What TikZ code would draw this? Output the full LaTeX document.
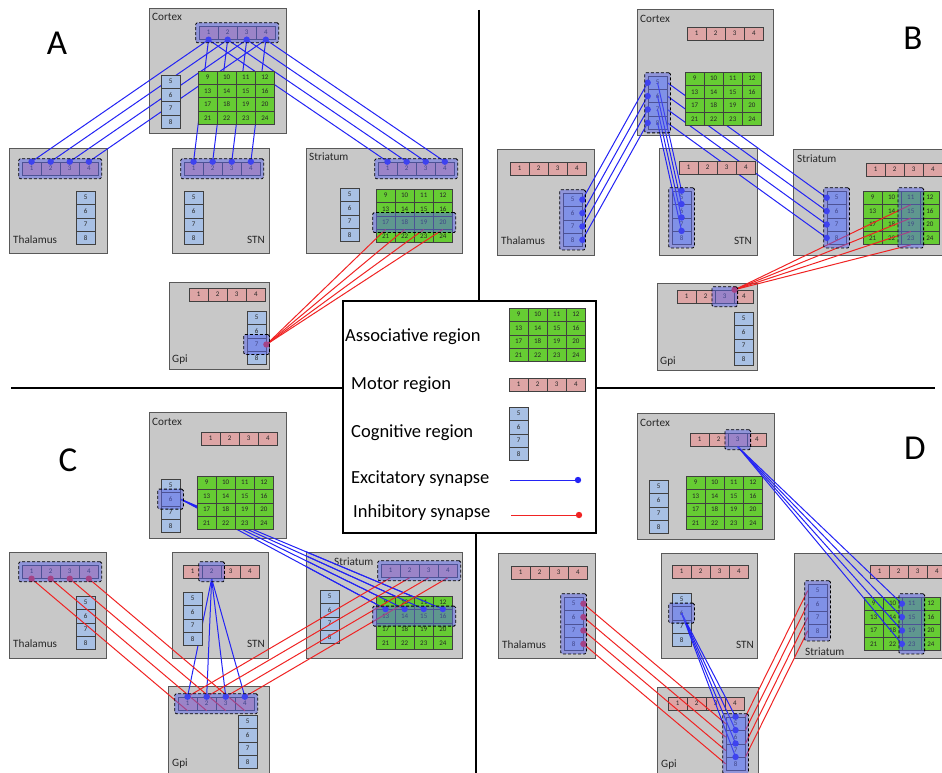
\documentclass[tikz,border=0pt]{standalone}
\usepackage{fontspec}
\setmainfont{Carlito}
\usetikzlibrary{fit,calc}
\pgfdeclarelayer{bg}
\pgfdeclarelayer{under}
\pgfdeclarelayer{over}
\pgfdeclarelayer{dots}
\pgfdeclarelayer{top}
\pgfsetlayers{bg,under,main,over,dots,top}
\definecolor{boxgray}{RGB}{200,200,200}
\definecolor{motorpink}{RGB}{221,165,165}
\definecolor{cogblue}{RGB}{168,192,228}
\definecolor{assocgreen}{RGB}{102,204,51}
\definecolor{exblue}{RGB}{35,35,245}
\definecolor{inred}{RGB}{240,35,35}
\definecolor{hlfill}{RGB}{90,100,235}
\def\cellw{19.1}
\def\cellh{13.4}
\tikzset{
  cellbase/.style={draw=black!75, line width=0.6pt, minimum width=19.1pt, minimum height=13.4pt,
    inner sep=0pt, font=\fontsize{7}{7}\selectfont, text=black!85},
  mcell/.style={cellbase, fill=motorpink},
  ccell/.style={cellbase, fill=cogblue},
  acell/.style={cellbase, fill=assocgreen},
  regbox/.style={draw=black!65, line width=0.8pt, fill=boxgray, inner sep=0pt},
  lab/.style={inner sep=0pt, font=\fontsize{11.2}{12}\selectfont, text=black!85},
  hl/.style={draw=black, dash pattern=on 3pt off 2pt, line width=0.8pt, fill=hlfill, fill opacity=0.5,
    draw opacity=1, inner sep=3pt, rounded corners=1.5pt},
  exl/.style={draw=exblue, line width=1pt},
  inl/.style={draw=inred, line width=1pt},
  exc/.style={fill=exblue},
  inc/.style={fill=inred},
  divider/.style={draw=black, line width=1.8pt},
  leglab/.style={inner sep=0pt, font=\fontsize{18.5}{20}\selectfont, anchor=west},
  panellab/.style={inner sep=0pt, font=\fontsize{35}{35}\selectfont},
}
\newcommand\MotorRow[3]{\foreach \i in {1,...,4}{\node[mcell] (#1-\i) at ({#2+\cellw*(\i-0.5)},{#3+\cellh/2}) {\i};}}
\newcommand\CogCol[3]{\foreach \i in {5,...,8}{\node[ccell] (#1-\i) at ({#2+\cellw/2},{#3+\cellh*(\i-4.5)}) {\i};}}
\newcommand\AssocGrid[3]{\foreach \r in {0,...,3}{\foreach \c in {0,...,3}{\pgfmathtruncatemacro\nn{9+4*\r+\c}\node[acell] (#1-\nn) at ({#2+\cellw*(\c+0.5)},{#3+\cellh*(\r+0.5)}) {\nn};}}}
\newcommand\Region[5]{\begin{pgfonlayer}{bg}\node[regbox, fit={(#2,#3)(#4,#5)}] (#1) {};\end{pgfonlayer}}
\newcommand\HL[2]{\begin{pgfonlayer}{top}\node[hl, fit=#2] (#1) {};\end{pgfonlayer}}
\newcommand\Ex[3][under]{\begin{pgfonlayer}{#1}\draw[exl] (#2) -- (#3);\end{pgfonlayer}\begin{pgfonlayer}{dots}\fill[exc] (#3) circle (3.2pt);\end{pgfonlayer}}
\newcommand\ExDot[1]{\begin{pgfonlayer}{dots}\fill[exc] (#1) circle (3.2pt);\end{pgfonlayer}}
\newcommand\In[3][over]{\begin{pgfonlayer}{#1}\draw[inl] (#2) -- (#3);\end{pgfonlayer}\begin{pgfonlayer}{dots}\fill[inc] (#3) circle (3.2pt);\end{pgfonlayer}}
\newcommand\InN[3][over]{\begin{pgfonlayer}{#1}\draw[inl] (#2) -- (#3);\end{pgfonlayer}}

\begin{document}
\begin{tikzpicture}[x=1pt,y=-1pt]
\useasboundingbox (0,0) rectangle (942,773);
\begin{pgfonlayer}{bg}\fill[white] (0,0) rectangle (942,773);\end{pgfonlayer}

% ---------------- dividers and legend
\coordinate (d1a) at (11,388); \coordinate (d1b) at (343,388);
\coordinate (d2a) at (596,388); \coordinate (d2b) at (935,388);
\coordinate (d3a) at (479,10); \coordinate (d3b) at (479,301);
\coordinate (d4a) at (476,533); \coordinate (d4b) at (476,773);
\draw[divider] (d1a) -- (d1b);
\draw[divider] (d2a) -- (d2b);
\draw[divider] (d3a) -- (d3b);
\draw[divider] (d4a) -- (d4b);
\node[draw=black, line width=1.6pt, fill=white, inner sep=0pt, fit={(343,301)(596,533)}] (leg) {};
\AssocGrid{L}{509}{308}
\MotorRow{L}{509}{378}
\CogCol{L}{509}{407}
\node[leglab] (legA) at (345,337) {Associative region};
\node[leglab] (legM) at (351,385) {Motor region};
\node[leglab] (legC) at (351,433) {Cognitive region};
\node[leglab] (legE) at (351,479) {Excitatory synapse};
\node[leglab] (legI) at (353,513) {Inhibitory synapse};
\coordinate (le1) at (510,480); \coordinate (le2) at (578,480);
\coordinate (li1) at (511,515); \coordinate (li2) at (579,515);
\draw[exl] (le1) -- (le2); \fill[exc] (le2) circle (3.2pt);
\draw[inl] (li1) -- (li2); \fill[inc] (li2) circle (3.2pt);

% ---------------- Panel A
\node[panellab] (pA) at (57,43) {A};
\Region{A-cx}{149}{8}{286}{133}
\node[lab,anchor=west] (A-cx-l) at (152,17) {Cortex};
\MotorRow{A-cx}{199}{26}
\CogCol{A-cx}{161}{75}
\AssocGrid{A-cx}{198}{71}
\Region{A-th}{9}{148}{107}{253}
\node[lab,anchor=west] (A-th-l) at (13,240) {Thalamus};
\MotorRow{A-th}{22}{162}
\CogCol{A-th}{76}{191}
\Region{A-stn}{172}{148}{269}{253}
\node[lab,anchor=east] (A-stn-l) at (265,240) {STN};
\MotorRow{A-stn}{184}{162}
\CogCol{A-stn}{184}{191}
\Region{A-str}{306}{148}{462}{253}
\node[lab,anchor=west] (A-str-l) at (309,157) {Striatum};
\MotorRow{A-str}{378}{162}
\CogCol{A-str}{340}{188}
\AssocGrid{A-str}{376}{189}
\Region{A-gpi}{169}{282}{269}{369}
\node[lab,anchor=west] (A-gpi-l) at (172,360) {Gpi};
\MotorRow{A-gpi}{189}{288}
\CogCol{A-gpi}{247}{311}
\foreach \i in {1,...,4}{
  \ExDot{A-cx-\i.south}
  \Ex{A-cx-\i.south}{A-th-\i.north}
  \Ex{A-cx-\i.south}{A-stn-\i.north}
  \Ex{A-cx-\i.south}{A-str-\i.north}
}
\foreach \i in {17,...,20}{\InN{A-str-\i.south}{A-gpi-7.east}}
\begin{pgfonlayer}{dots}\fill[inc] (A-gpi-7.east) circle (3.2pt);\end{pgfonlayer}
\HL{A-h1}{(A-cx-1)(A-cx-4)}
\HL{A-h2}{(A-th-1)(A-th-4)}
\HL{A-h3}{(A-stn-1)(A-stn-4)}
\HL{A-h4}{(A-str-1)(A-str-4)}
\HL{A-h5}{(A-str-17)(A-str-20)}
\HL{A-h6}{(A-gpi-7)}

% ---------------- Panel B
\node[panellab] (pB) at (913,38) {B};
\Region{B-cx}{637}{9}{773}{135}
\node[lab,anchor=west] (B-cx-l) at (640,19) {Cortex};
\MotorRow{B-cx}{687}{27}
\CogCol{B-cx}{648}{76}
\AssocGrid{B-cx}{685}{72}
\Region{B-th}{497}{149}{594}{255}
\node[lab,anchor=west] (B-th-l) at (501,241) {Thalamus};
\MotorRow{B-th}{510}{162}
\CogCol{B-th}{563}{193}
\Region{B-stn}{659}{148}{757}{255}
\node[lab,anchor=east] (B-stn-l) at (752,241) {STN};
\MotorRow{B-stn}{679}{161}
\CogCol{B-stn}{672}{191}
\Region{B-str}{793}{149}{950}{255}
\node[lab,anchor=west] (B-str-l) at (797,159) {Striatum};
\MotorRow{B-str}{866}{163}
\CogCol{B-str}{827}{191}
\AssocGrid{B-str}{863}{191}
\Region{B-gpi}{657}{283}{757}{370}
\node[lab,anchor=west] (B-gpi-l) at (660,362) {Gpi};
\MotorRow{B-gpi}{677}{290}
\CogCol{B-gpi}{734}{312}
\foreach \i in {5,...,8}{
  \ExDot{B-cx-\i.west}
  \Ex{B-cx-\i.west}{B-th-\i.east}
  \Ex[over]{B-cx-\i.center}{B-stn-\i.north}
  \Ex{B-cx-\i.east}{B-str-\i.west}
}
\foreach \i in {11,15,19,23}{\InN{B-str-\i.south}{B-gpi-3.north east}}
\begin{pgfonlayer}{dots}\fill[inc] (B-gpi-3.north east) circle (3.2pt);\end{pgfonlayer}
\HL{B-h1}{(B-cx-5)(B-cx-8)}
\HL{B-h2}{(B-th-5)(B-th-8)}
\HL{B-h3}{(B-stn-5)(B-stn-8)}
\HL{B-h4}{(B-str-5)(B-str-8)}
\HL{B-h5}{(B-str-11)(B-str-23)}
\HL{B-h6}{(B-gpi-3)}

% ---------------- Panel C
\node[panellab] (pC) at (68,460) {C};
\Region{C-cx}{149}{412}{286}{538}
\node[lab,anchor=west] (C-cx-l) at (152,422) {Cortex};
\MotorRow{C-cx}{201}{432}
\CogCol{C-cx}{161}{479}
\AssocGrid{C-cx}{197}{476}
\Region{C-th}{9}{552}{106}{658}
\node[lab,anchor=west] (C-th-l) at (13,644) {Thalamus};
\MotorRow{C-th}{22}{565}
\CogCol{C-th}{76}{596}
\Region{C-stn}{172}{552}{268}{658}
\node[lab,anchor=east] (C-stn-l) at (265,644) {STN};
\MotorRow{C-stn}{183}{565}
\CogCol{C-stn}{183}{592}
\Region{C-str}{306}{552}{462}{658}
\node[lab,anchor=west] (C-str-l) at (334,562) {Striatum};
\MotorRow{C-str}{381}{564}
\CogCol{C-str}{320}{590}
\AssocGrid{C-str}{376}{596}
\Region{C-gpi}{168}{686}{269}{790}
\node[lab,anchor=west] (C-gpi-l) at (172,764) {Gpi};
\MotorRow{C-gpi}{178}{697}
\CogCol{C-gpi}{238}{715}
\foreach \i in {13,...,16}{\Ex{C-cx-6.east}{C-str-\i.north}}
\begin{pgfonlayer}{over}
\begin{scope}
\clip (C-str.north west) rectangle (C-str.south east);
\foreach \i in {13,...,16}{\draw[exl] (C-cx-6.east) -- (C-str-\i.north);}
\end{scope}
\end{pgfonlayer}
\foreach \i in {1,...,4}{
  \Ex{C-stn-2.south}{C-gpi-\i.north}
  \In{C-gpi-\i.south}{C-th-\i.south}
  \InN{C-str-\i.south}{C-gpi-\i.north}
}
\HL{C-h1}{(C-cx-6)}
\HL{C-h2}{(C-th-1)(C-th-4)}
\HL{C-h3}{(C-stn-2)}
\HL{C-h4}{(C-str-1)(C-str-4)}
\HL{C-h5}{(C-str-13)(C-str-16)}
\HL{C-h6}{(C-gpi-1)(C-gpi-4)}

% ---------------- Panel D
\node[panellab] (pD) at (915,448) {D};
\Region{D-cx}{637}{413}{774}{539}
\node[lab,anchor=west] (D-cx-l) at (640,423) {Cortex};
\MotorRow{D-cx}{690}{433}
\CogCol{D-cx}{649}{480}
\AssocGrid{D-cx}{686}{476}
\Region{D-th}{498}{553}{595}{658}
\node[lab,anchor=west] (D-th-l) at (502,645) {Thalamus};
\MotorRow{D-th}{511}{566}
\CogCol{D-th}{564}{597}
\Region{D-stn}{661}{553}{757}{658}
\node[lab,anchor=east] (D-stn-l) at (754,645) {STN};
\MotorRow{D-stn}{672}{565}
\CogCol{D-stn}{672}{593}
\Region{D-str}{794}{553}{950}{658}
\node[lab,anchor=west] (D-str-l) at (805,652) {Striatum};
\MotorRow{D-str}{870}{565}
\CogCol{D-str}{808}{584}
\AssocGrid{D-str}{864}{597}
\Region{D-gpi}{657}{687}{758}{790}
\node[lab,anchor=west] (D-gpi-l) at (661,765) {Gpi};
\MotorRow{D-gpi}{668}{697}
\CogCol{D-gpi}{726}{717}
\foreach \i in {11,15,19,23}{\Ex[over]{D-cx-3.south}{D-str-\i.west}}
\foreach \i in {5,...,8}{
  \Ex[over]{D-stn-6.center}{D-gpi-\i.north}
  \In{D-gpi-\i.west}{D-th-\i.east}
  \InN{D-str-\i.west}{D-gpi-\i.north east}
}
\HL{D-h1}{(D-cx-3)}
\HL{D-h2}{(D-th-5)(D-th-8)}
\HL{D-h3}{(D-stn-6)}
\HL{D-h4}{(D-str-5)(D-str-8)}
\HL{D-h5}{(D-str-11)(D-str-23)}
\HL{D-h6}{(D-gpi-5)(D-gpi-8)}
\end{tikzpicture}
\end{document}
